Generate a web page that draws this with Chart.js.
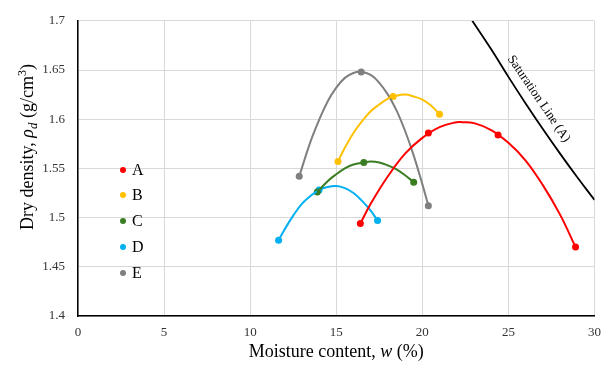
<!DOCTYPE html>
<html>
<head>
<meta charset="utf-8">
<script src="https://cdn.jsdelivr.net/npm/chart.js@4.4.1/dist/chart.umd.min.js"></script>
<style>
  html, body { margin: 0; padding: 0; background: #fff; }
  #wrap { width: 610px; height: 367px; }
</style>
</head>
<body>
<div id="wrap"><canvas id="chart"></canvas></div>
<script>
// names and colours of the five soils
const series_names = ['A', 'B', 'C', 'D', 'E'];
const series_colors = ['#FF0000', '#FFC000', '#3A7D22', '#00B0F0', '#7F7F7F'];

// measured points (moisture %, dry density g/cm3)
const w_A = [16.4, 20.35, 24.4, 28.9];
const rho_A = [1.494, 1.586, 1.584, 1.470];
const w_B = [15.1, 18.3, 21.0];
const rho_B = [1.557, 1.623, 1.605];
const w_C = [13.9, 16.6, 19.5];
const rho_C = [1.526, 1.556, 1.536];
const w_D = [11.65, 14.0, 17.4];
const rho_D = [1.477, 1.528, 1.497];
const w_E = [12.85, 16.45, 20.35];
const rho_E = [1.542, 1.648, 1.512];

// trend curves
const trend_w_A = [16.4, 17, 18, 19, 20, 21, 22, 22.3, 23, 24, 25, 26, 27, 28, 28.9];
const trend_rho_A = [1.494, 1.514, 1.542, 1.565, 1.581, 1.592, 1.597, 1.597, 1.596, 1.589, 1.576, 1.558, 1.533, 1.503, 1.470];
const trend_w_B = [15.1, 15.5, 16, 16.5, 17, 17.5, 18, 18.3, 19, 19.5, 20, 20.5, 21.0];
const trend_rho_B = [1.557, 1.571, 1.586, 1.598, 1.608, 1.615, 1.621, 1.623, 1.625, 1.623, 1.620, 1.614, 1.605];
const trend_w_C = [13.9, 14.5, 15, 15.5, 16, 16.6, 17, 17.5, 18, 18.5, 19, 19.5];
const trend_rho_C = [1.526, 1.537, 1.544, 1.550, 1.554, 1.556, 1.557, 1.556, 1.553, 1.549, 1.543, 1.536];
const trend_w_D = [11.65, 12, 12.5, 13, 13.5, 14, 14.5, 15, 15.5, 16, 16.5, 17, 17.4];
const trend_rho_D = [1.477, 1.488, 1.502, 1.514, 1.522, 1.528, 1.531, 1.532, 1.530, 1.525, 1.517, 1.507, 1.497];
const trend_w_E = [12.85, 13.5, 14, 14.5, 15, 15.5, 16, 16.45, 17, 17.5, 18, 18.5, 19, 19.5, 20, 20.35];
const trend_rho_E = [1.542, 1.577, 1.599, 1.618, 1.632, 1.642, 1.647, 1.648, 1.645, 1.637, 1.625, 1.609, 1.588, 1.563, 1.534, 1.512];

// saturation line for soil A
const sat_w = [22.9, 24, 25, 26, 27, 28, 29, 30];
const sat_rho = [1.700, 1.671, 1.643, 1.616, 1.590, 1.565, 1.541, 1.518];

const x_min = 0, x_max = 30, x_step = 5;
const y_min = 1.4, y_max = 1.7, y_step = 0.05;

const FONT = "'Liberation Serif', 'Times New Roman', serif";

function to_points(xs, ys)
{
    return xs.map((x, i) => ({ x: x, y: ys[i] }));
}

const measured = [[w_A, rho_A], [w_B, rho_B], [w_C, rho_C], [w_D, rho_D], [w_E, rho_E]];
const trends = [[trend_w_A, trend_rho_A], [trend_w_B, trend_rho_B], [trend_w_C, trend_rho_C],
                [trend_w_D, trend_rho_D], [trend_w_E, trend_rho_E]];

let datasets = [];
//kurvorna först, punkterna ovanpå
trends.forEach((t, i) => {
    datasets.push({
        label: series_names[i] + ' trend',
        data: to_points(t[0], t[1]),
        showLine: true,
        borderColor: series_colors[i],
        borderWidth: 2,
        pointRadius: 0,
        tension: 0.4
    });
});
datasets.push({
    label: 'Saturation Line (A)',
    data: to_points(sat_w, sat_rho),
    showLine: true,
    borderColor: '#000000',
    borderWidth: 1.8,
    pointRadius: 0,
    tension: 0.4
});
measured.forEach((m, i) => {
    datasets.push({
        label: series_names[i],
        data: to_points(m[0], m[1]),
        showLine: false,
        backgroundColor: series_colors[i],
        borderColor: series_colors[i],
        pointRadius: 3.5,
        pointBorderWidth: 0
    });
});

// draws a string made of styled pieces, centred on (0,0) of current transform
function draw_rich(ctx, pieces)
{
    let total = 0;
    pieces.forEach(p => {
        ctx.font = (p.italic ? 'italic ' : '') + p.size + 'px ' + FONT;
        p.w = ctx.measureText(p.text).width;
        total += p.w;
    });
    let x = -total / 2;
    ctx.textBaseline = 'alphabetic';
    ctx.textAlign = 'left';
    pieces.forEach(p => {
        ctx.font = (p.italic ? 'italic ' : '') + p.size + 'px ' + FONT;
        ctx.fillText(p.text, x, p.dy || 0);
        x += p.w;
    });
}

const extras = {
    id: 'extras',
    afterDraw(chart)
    {
        const ctx = chart.ctx;
        const xs = chart.scales.x;
        const ys = chart.scales.y;
        ctx.save();
        ctx.fillStyle = '#000';

        // y-axelns titel
        ctx.save();
        ctx.translate(33, 147);
        ctx.rotate(-Math.PI / 2);
        draw_rich(ctx, [
            { text: 'Dry density, ', size: 18 },
            { text: '\u03C1', size: 18, italic: true },
            { text: 'd', size: 13, italic: true, dy: 4 },
            { text: ' (g/cm', size: 18 },
            { text: '3', size: 12, dy: -7 },
            { text: ')', size: 18 }
        ]);
        ctx.restore();

        // x-axelns titel
        ctx.save();
        ctx.translate((xs.left + xs.right) / 2, 357);
        draw_rich(ctx, [
            { text: 'Moisture content, ', size: 18 },
            { text: 'w', size: 18, italic: true },
            { text: ' (%)', size: 18 }
        ]);
        ctx.restore();

        // legend inne i diagrammet
        const leg_y = [170, 195, 221, 247, 273];
        series_names.forEach((n, i) => {
            ctx.beginPath();
            ctx.fillStyle = series_colors[i];
            ctx.arc(123, leg_y[i], 3, 0, Math.PI * 2);
            ctx.fill();
            ctx.fillStyle = '#000';
            ctx.font = '16px ' + FONT;
            ctx.textAlign = 'left';
            ctx.textBaseline = 'middle';
            ctx.fillText(n, 132, leg_y[i] + 1);
        });

        // etikett längs mättnadslinjen
        const px = xs.getPixelForValue(26.1);
        const py = ys.getPixelForValue(1.613);
        ctx.save();
        ctx.translate(px + 6, py - 4);
        ctx.rotate(Math.atan2(ys.getPixelForValue(1.518) - ys.getPixelForValue(1.7),
                              xs.getPixelForValue(30) - xs.getPixelForValue(22.9)));
        ctx.font = '13px ' + FONT;
        ctx.textAlign = 'center';
        ctx.textBaseline = 'bottom';
        ctx.fillStyle = '#000';
        ctx.fillText('Saturation Line (A)', 0, 0);
        ctx.restore();

        ctx.restore();
    }
};

new Chart(document.getElementById('chart'), {
    type: 'scatter',
    data: { datasets: datasets },
    options: {
        responsive: true,
        maintainAspectRatio: false,
        animation: false,
        layout: { padding: { left: 0, top: 13, right: 12, bottom: 0 } },
        plugins: {
            legend: { display: false },
            tooltip: { enabled: false }
        },
        scales: {
            x: {
                type: 'linear',
                min: x_min,
                max: x_max,
                ticks: {
                    stepSize: x_step,
                    padding: 9,
                    color: '#333',
                    maxRotation: 0,
                    font: { family: FONT, size: 13 }
                },
                grid: { color: '#d9d9d9', drawTicks: false },
                border: { color: '#000', width: 1.5 },
                afterFit(axis) { axis.height = 51; }
            },
            y: {
                min: y_min,
                max: y_max,
                ticks: {
                    stepSize: y_step,
                    padding: 13,
                    color: '#333',
                    font: { family: FONT, size: 13 },
                    callback: v => Math.round(v * 100) / 100
                },
                grid: { color: '#d9d9d9', drawTicks: false },
                border: { color: '#000', width: 1.5 },
                afterFit(axis) { axis.width = 78; }
            }
        }
    },
    plugins: [extras]
});
</script>
</body>
</html>
